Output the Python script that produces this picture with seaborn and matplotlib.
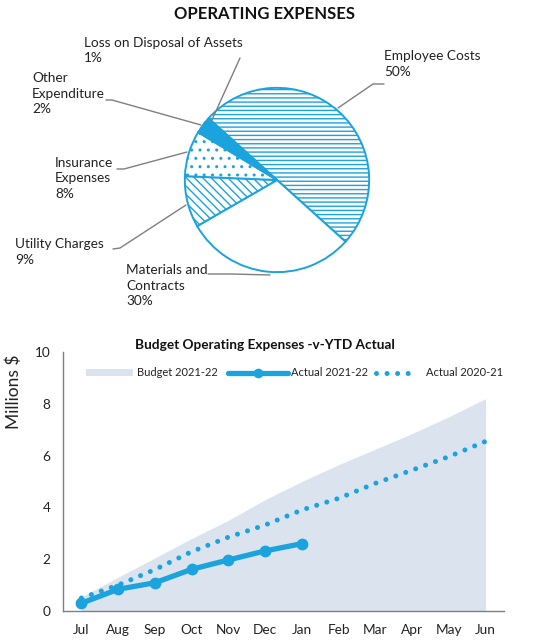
import numpy as np
import pandas as pd
import matplotlib
matplotlib.use("Agg")
import matplotlib.pyplot as plt
import seaborn as sns
from matplotlib.lines import Line2D
from matplotlib.patches import Patch

# ---------------- data ----------------
pie_labels = ["Employee Costs", "Materials and\nContracts", "Utility Charges",
              "Insurance\nExpenses", "Other\nExpenditure", "Loss on Disposal of Assets"]
pie_values = [50, 30, 9, 8, 2, 1]

months = ["Jul", "Aug", "Sep", "Oct", "Nov", "Dec", "Jan", "Feb", "Mar", "Apr", "May", "Jun"]
budget_2122 = [0.55, 1.3, 2.05, 2.8, 3.5, 4.3, 5.0, 5.65, 6.25, 6.85, 7.5, 8.2]
actual_2122 = [0.3, 0.84, 1.09, 1.61, 1.97, 2.32, 2.6]
actual_2021 = [0.5, 1.0, 1.6, 2.29, 2.85, 3.32, 3.9, 4.35, 4.93, 5.44, 5.96, 6.55]
series_names = ["Budget 2021-22", "Actual 2021-22", "Actual 2020-21"]

yticks = [0, 2, 4, 6, 8, 10]

BLUE = "#1ba3dd"
AREA = "#dbe3ef"
GREY = "#7f7f7f"
TXT = "#222222"
FS = 9.8
LFS = 8.0

sns.set_style("white")
plt.rcParams["font.family"] = ["Lato", "DejaVu Sans"]
plt.rcParams["hatch.linewidth"] = 1.0
plt.rcParams["hatch.color"] = BLUE

W, H = 535, 641
fig = plt.figure(figsize=(W / 100, H / 100), dpi=100)


def fx(px):
    return px / W


def fy(py):
    return 1 - py / H


# ---------------- pie ----------------
cx, cy, r = 277, 180, 94
ax_pie = fig.add_axes([fx(cx - r), fy(cy + r), 2 * r / W, 2 * r / H])
hatches = ["----", "", "\\\\\\\\", "..", "", ""]
faces = ["white", "white", "white", "white", BLUE, BLUE]
wedges, _ = ax_pie.pie(pie_values, startangle=138, counterclock=False,
                       colors=faces, radius=1,
                       wedgeprops=dict(edgecolor=BLUE, linewidth=1.4))
for w, h in zip(wedges, hatches):
    w.set_hatch(h)
ax_pie.set_xlim(-1.02, 1.02)
ax_pie.set_ylim(-1.02, 1.02)
ax_pie.axis("off")

fig.text(fx(265), fy(14), "OPERATING EXPENSES", ha="center", va="center",
         fontsize=12, fontweight="bold", color="#111111")

# label text positions (left x, top y in px), leader lines (px points)
label_layout = [
    (384, 50, [(384, 84), (373, 84), (338, 108)]),
    (126, 264, [(208, 274), (232, 274), (270, 275)]),
    (15, 238, [(113, 249), (120, 248), (186, 205)]),
    (55, 157, [(117, 169), (124, 169), (187, 152)]),
    (32, 72, [(106, 100), (112, 100), (201, 125)]),
    (84, 37, [(240, 58), (211, 122)]),
]
for lab, val, (tx, ty, pts) in zip(pie_labels, pie_values, label_layout):
    fig.text(fx(tx), fy(ty), f"{lab}\n{val}%", ha="left", va="top",
             fontsize=FS, color=TXT, linespacing=1.35)
    xs = [fx(p[0]) for p in pts]
    ys = [fy(p[1]) for p in pts]
    fig.add_artist(Line2D(xs, ys, color=GREY, lw=1.0, transform=fig.transFigure))

# ---------------- line chart ----------------
ax_l, ax_r, ax_t, ax_b = 63, 504, 352, 611
ax = fig.add_axes([fx(ax_l), fy(ax_b), (ax_r - ax_l) / W, (ax_b - ax_t) / H])
x_all = np.arange(len(months))
ax.fill_between(x_all, 0, budget_2122, color=AREA, lw=0, zorder=1)

df_a = pd.DataFrame({"x": x_all[:len(actual_2122)], "y": actual_2122})
df_b = pd.DataFrame({"x": x_all, "y": actual_2021})

sns.lineplot(data=df_b, x="x", y="y", ax=ax, color=BLUE, lw=3.6,
             linestyle=(0, (0.01, 2.1)), zorder=3)
ax.lines[-1].set_dash_capstyle("round")
sns.lineplot(data=df_a, x="x", y="y", ax=ax, color=BLUE, lw=3.8,
             marker="o", markersize=8.5, markeredgewidth=0, zorder=4)

ax.set_xlim(-0.5, len(months) - 0.5)
ax.set_ylim(0, 10)
ax.set_yticks(yticks)
ax.set_yticklabels([str(t) for t in yticks], fontsize=FS, color=TXT)
ax.set_xticks(x_all)
ax.set_xticklabels(months, fontsize=FS, color=TXT)
ax.set_xticks(np.arange(-0.5, len(months), 1), minor=True)
ax.tick_params(axis="x", which="major", length=0, pad=9)
ax.tick_params(axis="x", which="minor", length=4, width=1, color=GREY, direction="out")
ax.tick_params(axis="y", which="major", length=4, width=1, color=GREY, direction="out", pad=5)
for s in ["top", "right"]:
    ax.spines[s].set_visible(False)
for s in ["left", "bottom"]:
    ax.spines[s].set_color(GREY)
    ax.spines[s].set_linewidth(1.0)
ax.set_xlabel("")
ax.set_ylabel("Millions $", fontsize=12.5, color=TXT)
ax.yaxis.set_label_coords(-0.092, 0.845)
ax.grid(False)

fig.text(fx(265), fy(345), "Budget Operating Expenses -v-YTD Actual", ha="center",
         va="center", fontsize=FS, fontweight="bold", color="#111111")

handles = [
    Patch(facecolor=AREA, edgecolor="none"),
    Line2D([0], [0], color=BLUE, lw=3.8, marker="o", markersize=7, markeredgewidth=0),
    Line2D([0], [0], color=BLUE, lw=3.6, linestyle=(0, (0.01, 2.1)), dash_capstyle="round"),
]
# per-entry legend layout: (handle start px, handle length px, text gap px)
leg_layout = [(86, 47, 4), (228, 60, 3), (376, 42, 8)]
px_per_em = LFS * 100 / 72
leg_y = (ax_b - 373) / (ax_b - ax_t)
legs = []
for hnd, name, (hx, hl, gap) in zip(handles, series_names, leg_layout):
    lg = ax.legend([hnd], [name], frameon=False, loc="center left",
                   bbox_to_anchor=((hx - ax_l) / (ax_r - ax_l), leg_y),
                   fontsize=LFS, handlelength=hl / px_per_em, handleheight=0.6,
                   handletextpad=gap / px_per_em, borderpad=0, borderaxespad=0)
    for t in lg.get_texts():
        t.set_color(TXT)
    legs.append(lg)
for lg in legs[:-1]:
    ax.add_artist(lg)

fig.savefig("out.png", dpi=100, facecolor="white")
